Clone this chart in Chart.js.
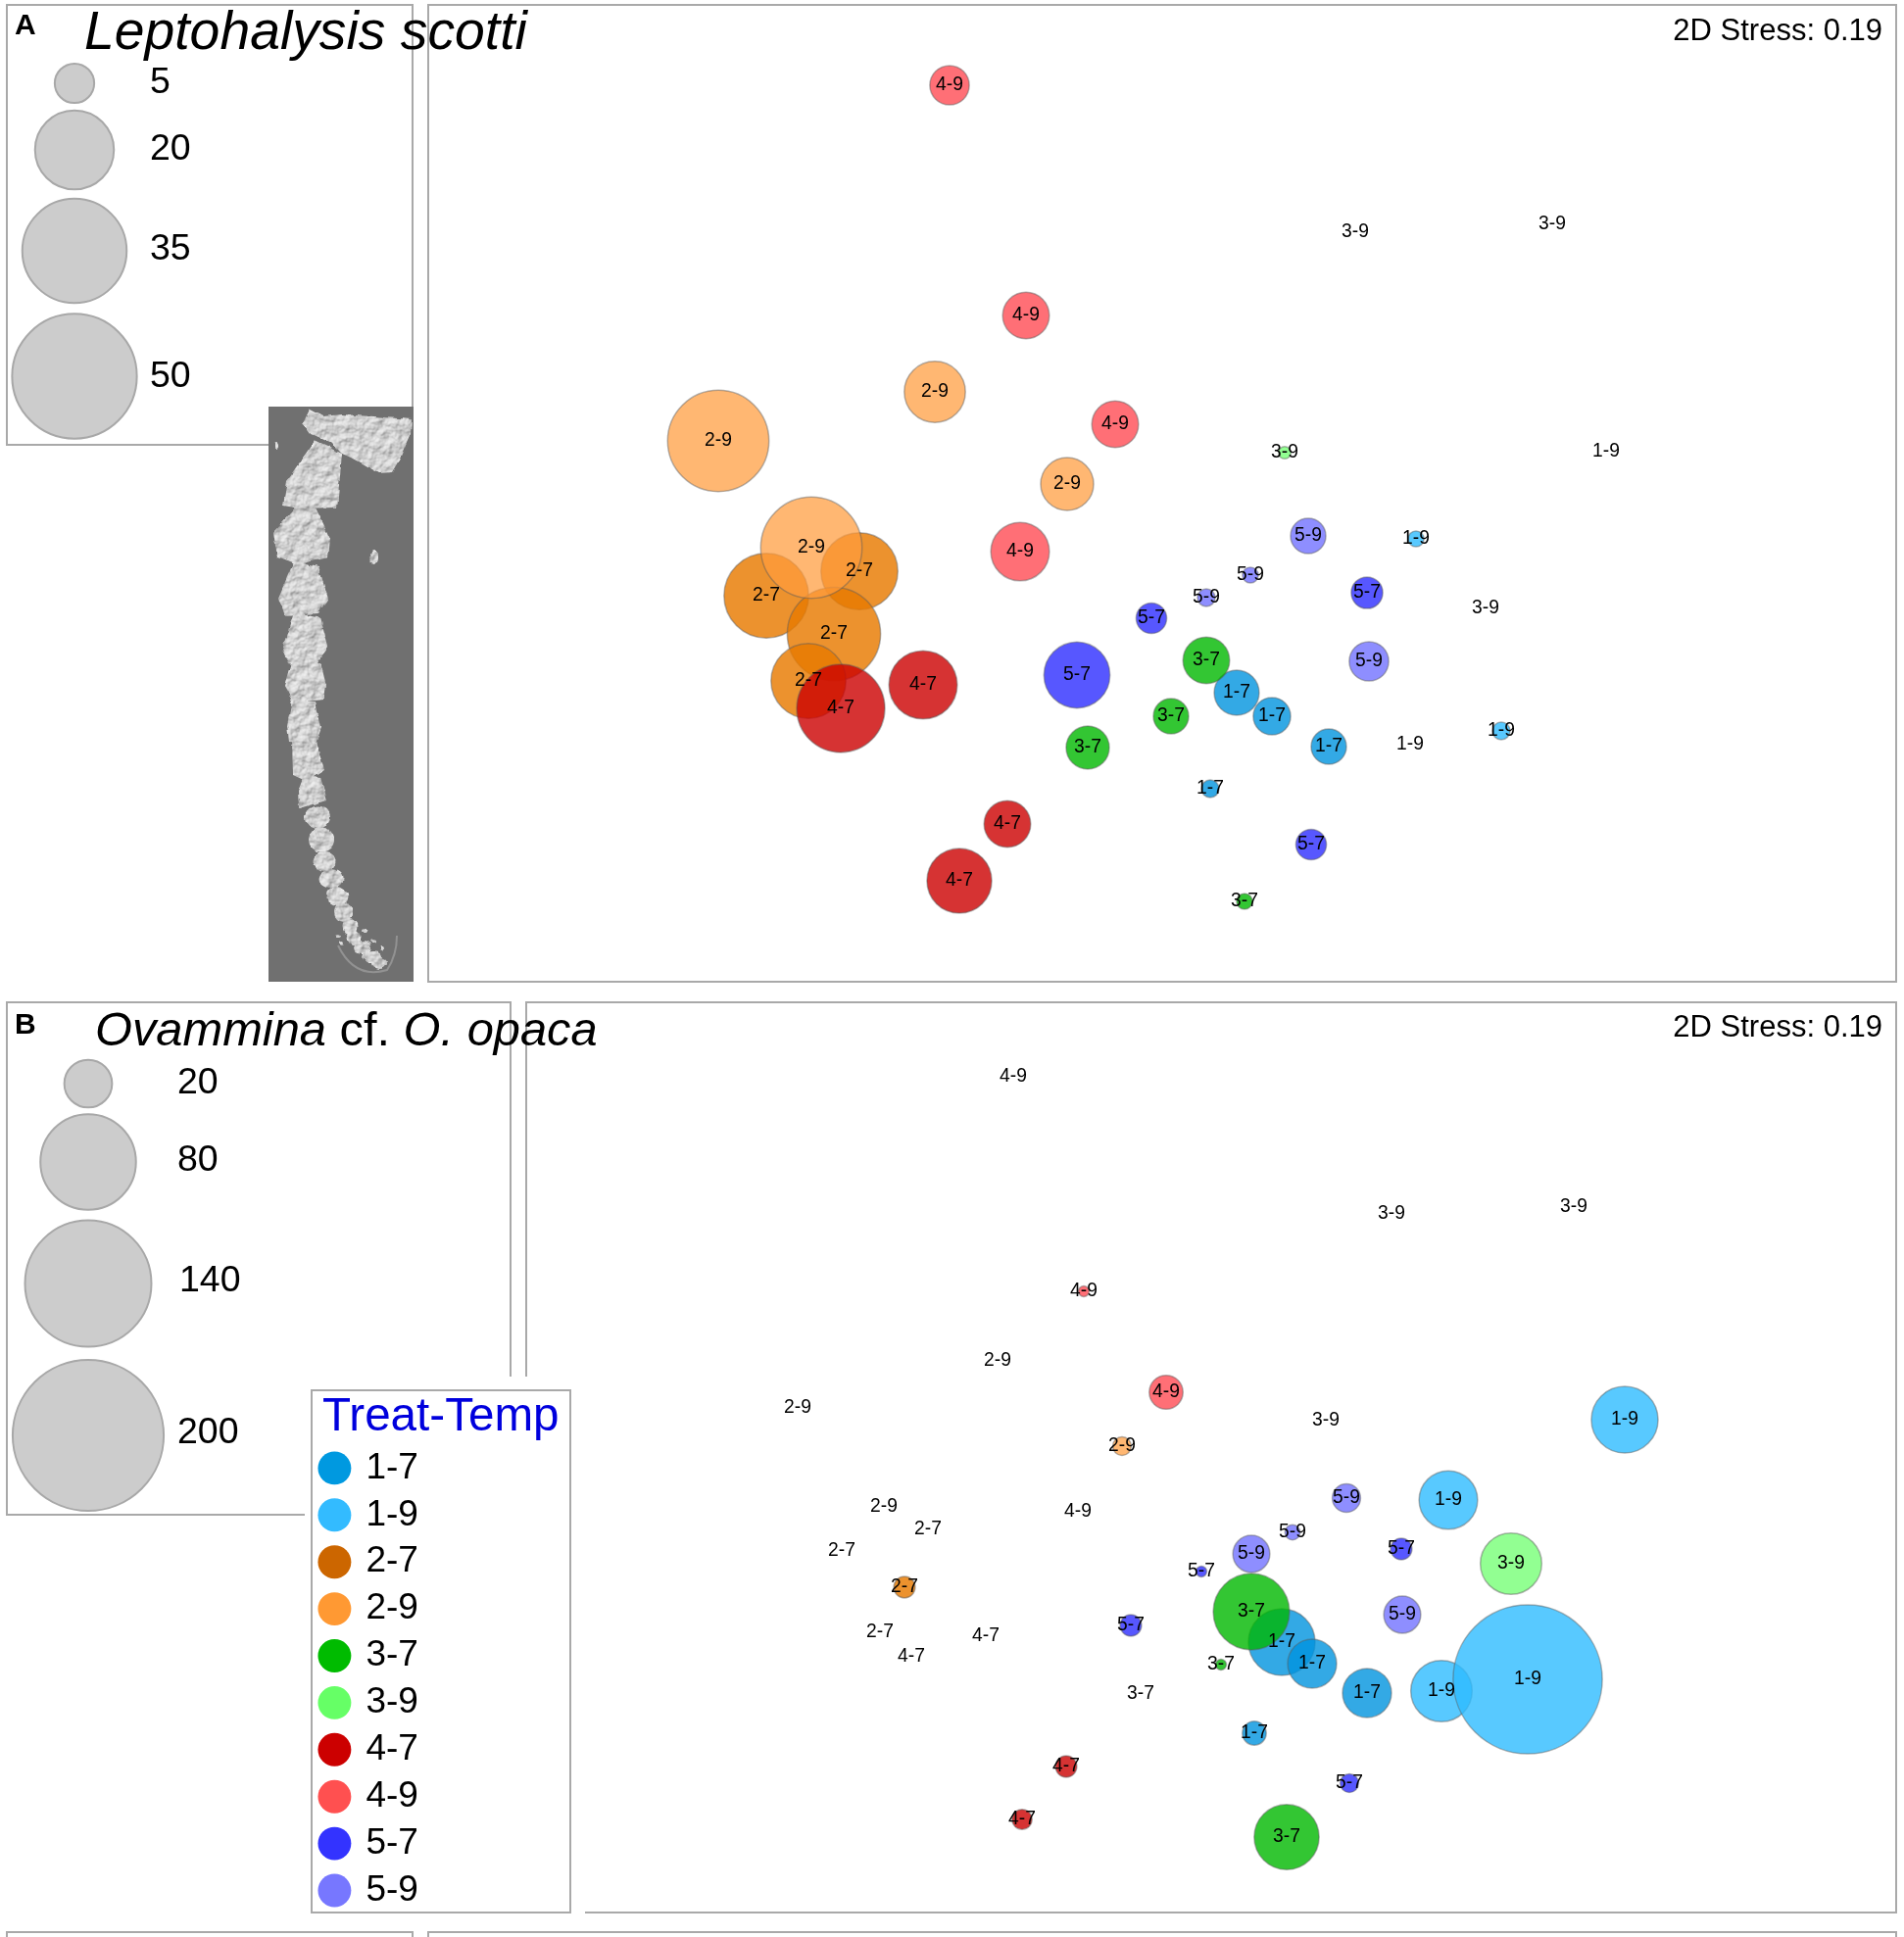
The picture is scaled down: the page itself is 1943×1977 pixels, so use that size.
<!DOCTYPE html>
<html><head><meta charset="utf-8"><title>NMDS bubble plots</title>
<script src="https://cdn.jsdelivr.net/npm/chart.js@4/dist/chart.umd.min.js"></script>
<style>
html,body{margin:0;padding:0;background:#fff;}
#page{position:relative;width:1943px;height:1977px;overflow:hidden;font-family:"Liberation Sans",Arial,sans-serif;color:#000;}
#page canvas{position:absolute;}
.ln{position:absolute;background:#a9a9a9;}
.tx{position:absolute;line-height:1;white-space:nowrap;z-index:6;}
#photo{position:absolute;left:274px;top:415px;z-index:4;}
#legbox{position:absolute;left:317px;top:1418px;width:262px;height:531px;border:2px solid #a9a9a9;background:#fff;z-index:3;}
#c_leg{z-index:5;}
</style></head><body><div id="page">
<svg id="photo" width="148" height="587" viewBox="274 415 148 587">
<defs>
<filter id="bgn" x="0" y="0" width="100%" height="100%" color-interpolation-filters="sRGB"><feTurbulence type="fractalNoise" baseFrequency="0.4" numOctaves="2" seed="4"/><feColorMatrix values="0 0 0 0 .44 0 0 0 0 .44 0 0 0 0 .44 0 0 0 .12 0"/></filter>
<filter id="rough" x="-10%" y="-10%" width="120%" height="120%" color-interpolation-filters="sRGB">
<feTurbulence type="fractalNoise" baseFrequency="0.1" numOctaves="2" seed="7" result="n"/>
<feDisplacementMap in="SourceGraphic" in2="n" scale="5" xChannelSelector="R" yChannelSelector="G" result="d"/>
<feTurbulence type="fractalNoise" baseFrequency="0.1" numOctaves="3" seed="11" result="t"/>
<feDiffuseLighting in="t" surfaceScale="1.8" lighting-color="#eeeeee" result="l"><feDistantLight azimuth="235" elevation="62"/></feDiffuseLighting>
<feComposite in="l" in2="d" operator="in"/>
</filter>
</defs>
<rect x="274" y="415" width="148" height="587" fill="#707070"/>
<rect x="274" y="415" width="148" height="587" filter="url(#bgn)"/>
<path d="M345 965Q362 1000 395 990Q405 975 405 955" fill="none" stroke="#a8a8a8" stroke-width="2" opacity=".6"/>
<g filter="url(#rough)" fill="#ccc">
<polygon points="309,432 316,418 329,425 349,423 381,425 420,428 419,442 407,470 400,482 387,483 378,478 358,467 349,463 338,452 317,443"/>
<polygon points="321,450 349,463 344,518 307,519 289,516 293,490"/>
<polygon points="304,515 321,517 337,550 335,569 304,576 283,568 279,543"/>
<polygon points="300,573 325,579 335,610 325,626 290,628 284,610"/>
<polygon points="300,625 327,631 335,660 322,679 294,676 288,663"/>
<polygon points="298,676 327,676 333,700 331,714 300,717 291,700"/>
<polygon points="298,715 322,716 328,743 322,759 295,757 293,740"/>
<polygon points="298,756 322,758 331,785 312,797 299,791"/>
<polygon points="310,791 327,793 333,817 305,825 304,807"/>
<ellipse cx="324" cy="834" rx="13" ry="11.5"/>
<ellipse cx="328" cy="857" rx="13" ry="12.5"/>
<ellipse cx="331" cy="879" rx="11.5" ry="10"/>
<ellipse cx="338" cy="897" rx="12.5" ry="10"/>
<ellipse cx="344" cy="915" rx="10.5" ry="10"/>
<ellipse cx="351" cy="931" rx="10" ry="10"/>
<ellipse cx="357" cy="946" rx="7.5" ry="8"/>
<ellipse cx="361" cy="957" rx="7.5" ry="7"/>
<ellipse cx="370" cy="967" rx="9" ry="7"/>
<ellipse cx="380" cy="977" rx="10" ry="6"/>
<ellipse cx="387" cy="983" rx="8" ry="6"/>
<ellipse cx="382" cy="569" rx="4" ry="7"/>
<ellipse cx="282" cy="455" rx="2" ry="3"/>
<ellipse cx="345" cy="955" rx="3" ry="2"/>
<ellipse cx="349" cy="963" rx="2" ry="2"/>
<ellipse cx="372" cy="950" rx="3" ry="2"/>
<ellipse cx="381" cy="960" rx="3" ry="2"/>
<ellipse cx="390" cy="968" rx="2" ry="2"/>
</g>
</svg>
<div id="legbox"></div>
<canvas id="c_a"></canvas><canvas id="c_b"></canvas><canvas id="c_ka"></canvas><canvas id="c_kb"></canvas><canvas id="c_leg"></canvas>
</div>
<script>
const treatments=["1-7","1-9","2-7","2-9","3-7","3-9","4-7","4-9","5-7","5-9"];
const legendColors=["#0099e0","#33bbff","#cc6600","#ff9933","#00bb00","#66ff66","#cc0000","#ff5050","#3333ff","#7777ff"];
const plotColors=["rgba(0,148,222,.8)","rgba(46,187,255,.8)","rgba(232,122,0,.82)","rgba(255,155,60,.72)","rgba(0,184,0,.8)","rgba(110,255,110,.75)","rgba(204,0,0,.8)","rgba(255,70,80,.78)","rgba(40,40,255,.78)","rgba(110,110,255,.78)"];

// Panel A, Leptohalysis scotti: one row per treatment
const aX=[[1262,1298,1356,1235],[1445,1532,1439,1639],[782,877,851,825],[733,954,1089,828],[1231,1195,1110,1270],[1311,1383,1584,1516],[858,942,1028,979],[969,1047,1138,1041],[1099,1175,1395,1338],[1335,1231,1276,1397]];
const aY=[[707,731,762,805],[550,746,760,461],[608,583,647,695],[450,400,494,559],[674,731,763,920],[462,237,229,621],[723,699,841,899],[87,322,433,563],[689,631,605,862],[547,610,587,675]];
const aAbund=[[6.5,4.5,4,1],[.8,1,0,0],[23,19,28,18],[33,12,9,33],[7,4,6,.8],[.5,0,0,0],[25,15,7,13.5],[5,7,7,11],[14,3,3.2,3],[4,1,.8,5]];

// Panel B, Ovammina cf. O. opaca
const bX=[[1308,1339,1395,1280],[1658,1478,1471,1559],[859,947,923,898],[814,1018,1145,902],[1277,1246,1164,1313],[1420,1606,1353,1542],[930,1006,1088,1043],[1034,1106,1190,1100],[1226,1154,1430,1377],[1277,1319,1374,1431]];
const bY=[[1676,1698,1728,1769],[1449,1531,1726,1714],[1583,1561,1620,1666],[1437,1389,1476,1538],[1645,1699,1729,1875],[1239,1232,1450,1596],[1691,1670,1803,1857],[1099,1318,1421,1543],[1604,1659,1581,1820],[1586,1564,1529,1648]];
const bAbund=[[39,21,21,5],[39,30,33,195],[0,0,4,0],[0,0,3,0],[51,1,0,37],[0,0,0,33],[0,0,4,3.5],[0,1,10,0],[1,4,4,3],[12,2,7,12]];

// Size keys
const keyAValues=[5,20,35,50];
const keyAY=[85,153,256,384];
const keyALabelY=[85,153,255,385];
const keyBValues=[20,80,140,200];
const keyBY=[1106,1186,1310,1465];
const keyBLabelY=[1106,1185,1308,1463];

const segs=[ // x,y,w,h page frames
[6,4,416,2],[6,4,2,450],[420,4,2,411],[6,453,268,2],
[436,4,1500,2],[436,4,2,999],[1934,4,2,999],[436,1001,1500,2],
[6,1022,516,2],[6,1022,2,525],[6,1545,305,2],[520,1022,2,383],
[536,1022,1400,2],[536,1022,2,383],[1934,1022,2,931],[597,1951,1339,2],
[6,1971,416,2],[6,1971,2,6],[420,1971,2,6],[436,1971,1500,2],[436,1971,2,6],[1934,1971,2,6]];
const page=document.getElementById("page");
segs.forEach(s=>{const d=document.createElement("div");d.className="ln";d.style.cssText=`left:${s[0]}px;top:${s[1]}px;width:${s[2]}px;height:${s[3]}px;`;page.appendChild(d);});

function text(html,x,base,size,extra){const d=document.createElement("div");d.className="tx";d.innerHTML=html;
 d.style.cssText=`top:${base-0.8465*size}px;font-size:${size}px;`+(extra&&extra.right?`right:${1943-x}px;`:`left:${x}px;`)+((extra&&extra.css)||"");page.appendChild(d);}
text("<i>Leptohalysis scotti</i>",86,51,55.3);
text("<b>A</b>",15,35,30);
text("2D Stress: 0.19",1921,41,31,{right:true});
text("<i>Ovammina</i> cf. <i>O. opaca</i>",97,1067,48.8);
text("<b>B</b>",15,1055,30);
text("2D Stress: 0.19",1921,1058,31,{right:true});
text("Treat-Temp",329,1460,47.6,{css:"color:#0000dd;"});

Chart.defaults.font.family='"Liberation Sans",Arial,sans-serif';
Chart.defaults.animation=false;
Chart.defaults.responsive=false;
Chart.defaults.devicePixelRatio=1;

const pointLabels={id:"pointLabels",afterDatasetsDraw(ch){
 const ctx=ch.ctx;ctx.save();ctx.font='19.3px "Liberation Sans",Arial,sans-serif';ctx.fillStyle="#000";ctx.textAlign="center";ctx.textBaseline="middle";
 ch.data.datasets.forEach((ds,i)=>{ch.getDatasetMeta(i).data.forEach((el,j)=>{
   if(ds.pointLabel) ctx.fillText(ds.pointLabel,el.x,el.y);});});
 ctx.restore();}};
const keyLabels={id:"keyLabels",afterDatasetsDraw(ch,a,o){
 const ctx=ch.ctx,sx=ch.scales.x,sy=ch.scales.y;ctx.save();ctx.font='37.5px "Liberation Sans",Arial,sans-serif';ctx.fillStyle="#000";ctx.textAlign="left";ctx.textBaseline="middle";
 o.values.forEach((v,i)=>ctx.fillText(String(v),sx.getPixelForValue(v>=100&&v<200?o.x+2:o.x),sy.getPixelForValue(o.y[i])));
 ctx.restore();}};

function place(id,l,t,w,h,z){const c=document.getElementById(id);c.width=w;c.height=h;c.style.left=l+"px";c.style.top=t+"px";c.style.width=w+"px";c.style.height=h+"px";if(z)c.style.zIndex=z;return c;}
const hiddenScales=(x0,x1,y0,y1)=>({x:{type:"linear",display:false,min:x0,max:x1},y:{type:"linear",display:false,min:y0,max:y1,reverse:true}});
const quiet={legend:{display:false},tooltip:{enabled:false},title:{display:false}};

function plotChart(id,l,t,r,b,X,Y,N,k){
 const datasets=treatments.map((name,i)=>({label:name,pointLabel:name,order:-i,clip:false,
  backgroundColor:plotColors[i],borderColor:"rgba(90,90,90,.45)",borderWidth:1.5,
  data:X[i].map((x,j)=>({x,y:Y[i][j],r:k*Math.sqrt(N[i][j])}))}));
 return new Chart(place(id,l,t,r-l,b-t,2),{type:"bubble",data:{datasets},plugins:[pointLabels],
  options:{layout:{padding:0,autoPadding:false},scales:hiddenScales(l,r,t,b),plugins:quiet}});
}
plotChart("c_a",436,4,1935,1002,aX,aY,aAbund,9);
plotChart("c_b",536,1022,1935,1954,bX,bY,bAbund,5.45);

function keyChart(id,l,t,r,b,vals,cx,ys,lx,lys,k){
 const ds=[{label:"size key",clip:false,backgroundColor:"#cccccc",borderColor:"#a8a8a8",borderWidth:2,
  data:vals.map((v,i)=>({x:cx,y:ys[i],r:k*Math.sqrt(v)}))}];
 return new Chart(place(id,l,t,r-l,b-t,2),{type:"bubble",data:{datasets:ds},plugins:[keyLabels],
  options:{layout:{padding:0,autoPadding:false},scales:hiddenScales(l,r,t,b),plugins:{...quiet,keyLabels:{values:vals,x:lx,y:lys}}}});
}
keyChart("c_ka",0,0,420,452,keyAValues,76,keyAY,153,keyALabelY,9);
keyChart("c_kb",0,1024,518,1546,keyBValues,90,keyBY,181,keyBLabelY,5.45);

new Chart(place("c_leg",317,1469,263,500,5),{type:"bubble",
 data:{datasets:treatments.map((name,i)=>({label:name,data:[],backgroundColor:legendColors[i]}))},
 options:{layout:{padding:0,autoPadding:false},scales:{x:{display:false},y:{display:false}},
 plugins:{tooltip:{enabled:false},legend:{display:true,position:"left",align:"start",onClick:null,
  labels:{usePointStyle:true,pointStyle:"circle",boxHeight:24,boxWidth:27,padding:10.9,color:"#000",font:{size:37},
   generateLabels:(ch)=>treatments.map((name,i)=>({text:name,fillStyle:legendColors[i],strokeStyle:legendColors[i],lineWidth:0,pointStyle:"circle",datasetIndex:i,fontColor:"#000"}))}}}}});
</script></body></html>
